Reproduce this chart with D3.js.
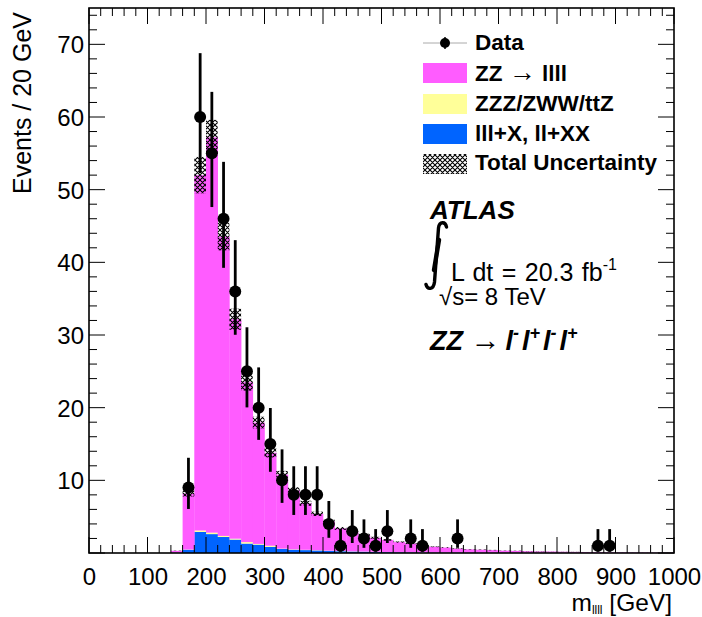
<!DOCTYPE html>
<html><head><meta charset="utf-8">
<script src="https://cdn.jsdelivr.net/npm/d3@7"></script>
<style>
body{margin:0;background:#fff}
svg{display:block}
text{font-family:"Liberation Sans",Arial,Helvetica,sans-serif;fill:#000}
</style>
</head><body><svg id="c" width="702" height="617"></svg>
<script>
// ---------------- data ----------------
const binLow = [140,160,180,200,220,240,260,280,300,320,340,360,380,400,420,440,460,480,500,520,540,560,580,600,620,640,660,680,700,720,740,760,780,800,820,840,860,880,900,920,940,960,980];
const zzToLLLL = [0.25,7.7,48.9,54.4,41.2,30.2,22.0,16.7,12.8,10.2,8.1,6.4,5.0,4.0,3.1,2.7,2.3,1.93,1.66,1.38,1.2,0.92,0.78,0.69,0.54,0.45,0.4,0.36,0.29,0.26,0.22,0.19,0.18,0.15,0.13,0.12,0.11,0.09,0.08,0.07,0.065,0.055,0.045];
const triboson = [0.0,0.03,0.2,0.2,0.15,0.12,0.2,0.1,0.15,0.05,0.05,0.04,0.04,0.03,0.03,0.03,0.02,0.02,0.02,0.02,0.02,0.01,0.01,0.01,0.01,0.01,0.01,0.01,0.0,0.0,0.0,0.0,0.0,0.0,0.0,0.0,0.0,0.0,0.0,0.0,0.0,0.0,0.0];
const fakes = [0.05,0.45,2.9,2.6,2.2,1.85,1.3,1.15,0.85,0.55,0.45,0.4,0.35,0.3,0.25,0.2,0.18,0.15,0.12,0.1,0.08,0.07,0.06,0.05,0.05,0.04,0.04,0.03,0.03,0.03,0.02,0.02,0.02,0.02,0.02,0.01,0.01,0.01,0.01,0.01,0.005,0.005,0.005];
const totalUnc = [0.02,0.4,2.5,2.4,1.9,1.45,1.15,0.8,0.65,0.5,0.45,0.35,0.3,0.25,0.2,0.18,0.15,0.13,0.11,0.09,0.08,0.06,0.05,0.05,0.04,0.03,0.03,0.03,0.02,0.02,0.02,0.02,0.01,0.01,0.01,0.01,0.01,0.01,0.01,0.01,0.01,0.01,0.01];
const dataMass   = [170,190,210,230,250,270,290,310,330,350,370,390,410,430,450,470,490,510,550,570,630,870,890];
const dataEvents = [9,60,55,46,36,25,20,15,10,8,8,8,4,1,3,2,1,3,2,1,2,1,1];
const xTickLabels = [0,100,200,300,400,500,600,700,800,900,1000];
const yTickLabels = [10,20,30,40,50,60,70];
const binWidth = 20;

// ---------------- layout ----------------
const L = 89, R = 674, T = 8, B = 553;
const svg = d3.select("#c");
const x = d3.scaleLinear().domain([0,1000]).range([L,R]);
const y = d3.scaleLinear().domain([0,75]).range([B,T]);

const defs = svg.append("defs");
defs.append("clipPath").attr("id","plot").append("rect")
  .attr("x",L).attr("y",T).attr("width",R-L).attr("height",B-T);
const P = 5;
const pat = defs.append("pattern").attr("id","hatch").attr("patternUnits","userSpaceOnUse")
  .attr("width",P).attr("height",P);
pat.append("path").attr("d",`M0,0 L${P},${P} M${P},0 L0,${P} M-1,${P-1} L1,${P+1} M${P-1},-1 L${P+1},1 M${P-1},${P+1} L${P+1},${P-1} M-1,1 L1,-1`)
  .attr("stroke","#000").attr("stroke-width",1.1).attr("fill","none");

const COL = {zz:"#ff5cff", tri:"#ffff99", fake:"#0064ff"};

const g = svg.append("g").attr("clip-path","url(#plot)");
const bins = binLow.map((lo,i)=>({lo, b:fakes[i], t:triboson[i], p:zzToLLLL[i], u:totalUnc[i]}));

// stacked MC
const layers = [
  {key:"b", col:COL.fake, base:d=>0},
  {key:"t", col:COL.tri, base:d=>d.b},
  {key:"p", col:COL.zz, base:d=>d.b+d.t}
];
layers.forEach(ly=>{
  g.selectAll(null).data(bins).enter().append("rect")
    .attr("x",d=>x(d.lo)).attr("width",d=>x(d.lo+binWidth)-x(d.lo)+0.3)
    .attr("y",d=>y(ly.base(d)+d[ly.key]))
    .attr("height",d=>Math.max(0,y(ly.base(d))-y(ly.base(d)+d[ly.key])))
    .attr("fill",ly.col);
});
// uncertainty band
g.selectAll(null).data(bins).enter().append("rect")
  .attr("x",d=>x(d.lo)).attr("width",d=>x(d.lo+binWidth)-x(d.lo))
  .attr("y",d=>y(d.b+d.t+d.p+d.u))
  .attr("height",d=>y(d.b+d.t+d.p-d.u)-y(d.b+d.t+d.p+d.u))
  .attr("fill","url(#hatch)");

// ---------------- axes ----------------
const ax = svg.append("g");
function ticks(vals, len){
  vals.forEach(v=>{
    ax.append("line").attr("x1",x(v)).attr("x2",x(v)).attr("y1",B).attr("y2",B-len).attr("stroke","#000").attr("stroke-width",1);
    ax.append("line").attr("x1",x(v)).attr("x2",x(v)).attr("y1",T).attr("y2",T+len).attr("stroke","#000").attr("stroke-width",1);
  });
}
function yticks(vals, len){
  vals.forEach(v=>{
    ax.append("line").attr("y1",y(v)).attr("y2",y(v)).attr("x1",L).attr("x2",L+len).attr("stroke","#000").attr("stroke-width",1);
    ax.append("line").attr("y1",y(v)).attr("y2",y(v)).attr("x1",R).attr("x2",R-len).attr("stroke","#000").attr("stroke-width",1);
  });
}
ticks(d3.range(0,1001,100),16);
ticks(d3.range(20,1000,20).filter(v=>v%100),8);
yticks(d3.range(0,75.1,10),16);
yticks(d3.range(2,75,2).filter(v=>v%10),8);

const xAxis = d3.axisBottom(x).tickValues(xTickLabels).tickSize(0).tickPadding(0).tickFormat(d3.format("d"));
const xa = svg.append("g").attr("transform",`translate(0,${B})`).call(xAxis);
xa.select(".domain").remove();
xa.selectAll("text").attr("font-size",24).attr("y",32).attr("dy",0)
  .style("font-family","'Liberation Sans',Arial,sans-serif").attr("fill","#000");

const yAxis = d3.axisLeft(y).tickValues(yTickLabels).tickSize(0).tickPadding(0).tickFormat(d3.format("d"));
const ya = svg.append("g").attr("transform",`translate(${L},0)`).call(yAxis);
ya.select(".domain").remove();
ya.selectAll("text").attr("font-size",24).attr("x",-5).attr("dy","0.35em")
  .style("font-family","'Liberation Sans',Arial,sans-serif").attr("fill","#000");

svg.append("rect").attr("x",L).attr("y",T).attr("width",R-L).attr("height",B-T)
  .attr("fill","none").attr("stroke","#000").attr("stroke-width",1.6);

// axis titles
svg.append("text").attr("transform","translate(31,12) rotate(-90)").attr("text-anchor","end")
  .attr("font-size",25).text("Events / 20 GeV");
const xt = svg.append("text").attr("x",672).attr("y",611).attr("text-anchor","end").attr("font-size",24.5);
xt.append("tspan").text("m");
xt.append("tspan").attr("font-size",12).attr("dy",3).text("llll");
xt.append("tspan").attr("dy",-3).text(" [GeV]");

// ---------------- data points ----------------
function garwood(n){
  const lo = n===0?0:n*Math.pow(1-1/(9*n)-1/(3*Math.sqrt(n)),3);
  const m1 = n+1;
  const hi = m1*Math.pow(1-1/(9*m1)+1/(3*Math.sqrt(m1)),3);
  return [lo,hi];
}
const dg = svg.append("g").attr("clip-path","url(#plot)");
dataMass.forEach((mv,i)=>{
  const n = dataEvents[i]; const [lo,hi] = garwood(n);
  dg.append("line").attr("x1",x(mv)).attr("x2",x(mv)).attr("y1",y(lo)).attr("y2",y(hi))
    .attr("stroke","#000").attr("stroke-width",2.8);
  dg.append("circle").attr("cx",x(mv)).attr("cy",y(n)).attr("r",6).attr("fill","#000");
});

// ---------------- legend ----------------
const lg = svg.append("g");
lg.append("line").attr("x1",423).attr("x2",467).attr("y1",43).attr("y2",43).attr("stroke","#aaa").attr("stroke-width",1);
lg.append("line").attr("x1",445).attr("x2",445).attr("y1",37).attr("y2",49).attr("stroke","#000").attr("stroke-width",1.5);
lg.append("circle").attr("cx",445).attr("cy",43).attr("r",5).attr("fill","#000");
const entries = [
  {y:63, fill:COL.zz},
  {y:94, fill:COL.tri},
  {y:124, fill:COL.fake},
  {y:154, fill:"url(#hatch)"}
];
entries.forEach(e=>{
  lg.append("rect").attr("x",423).attr("y",e.y).attr("width",44).attr("height",20).attr("fill",e.fill);
});
const lf = 22.5;
lg.append("text").attr("x",475).attr("y",50).attr("font-size",lf).attr("font-weight","bold").text("Data");
const t2 = lg.append("text").attr("x",475).attr("y",81).attr("font-size",lf).attr("font-weight","bold");
t2.append("tspan").text("ZZ ");
t2.append("tspan").attr("font-weight","normal").attr("font-size",27).text("\u2192");
t2.append("tspan").text(" llll");
lg.append("text").attr("x",475).attr("y",111).attr("font-size",lf).attr("font-weight","bold").text("ZZZ/ZWW/ttZ");
lg.append("text").attr("x",475).attr("y",141).attr("font-size",lf).attr("font-weight","bold").text("lll+X, ll+XX");
lg.append("text").attr("x",475).attr("y",170).attr("font-size",lf).attr("font-weight","bold").text("Total Uncertainty");

// ---------------- labels ----------------
svg.append("text").attr("x",430).attr("y",219).attr("font-size",26).attr("font-weight","bold").attr("font-style","italic").text("ATLAS");
// integral sign (filled, thicker in the middle)
svg.append("path").attr("d","M446.5,227 C445.5,221.5 439.5,221 438.5,228 L434.5,282 C433.5,290 427.5,290 426,284.5")
  .attr("fill","none").attr("stroke","#000").attr("stroke-width",3.4).attr("stroke-linecap","round");
svg.append("path").attr("d","M439,240 L434,270").attr("stroke","#000").attr("stroke-width",4.4).attr("stroke-linecap","round");
const lum = svg.append("text").attr("x",451).attr("y",281).attr("font-size",25).attr("word-spacing",1.5);
lum.append("tspan").text("L dt = 20.3 fb");
lum.append("tspan").attr("font-size",16).attr("dy",-11).text("-1");
const rs = svg.append("text").attr("x",439).attr("y",305).attr("font-size",24);
rs.append("tspan").text("\u221As= 8 TeV");
const zz = svg.append("text").attr("x",430).attr("y",350).attr("font-size",27).attr("font-weight","bold").attr("font-style","italic");
zz.append("tspan").text("ZZ ");
zz.append("tspan").attr("font-weight","normal").attr("font-style","normal").attr("font-size",30).text("\u2192");
const sup = ["-","+","-","+"];
sup.forEach((s,i)=>{
  zz.append("tspan").attr("dy", i===0?0:11).attr("dx", i===0?5:3).text("l");
  zz.append("tspan").attr("font-size",18).attr("dy",-11).text(s);
});
</script></body></html>
